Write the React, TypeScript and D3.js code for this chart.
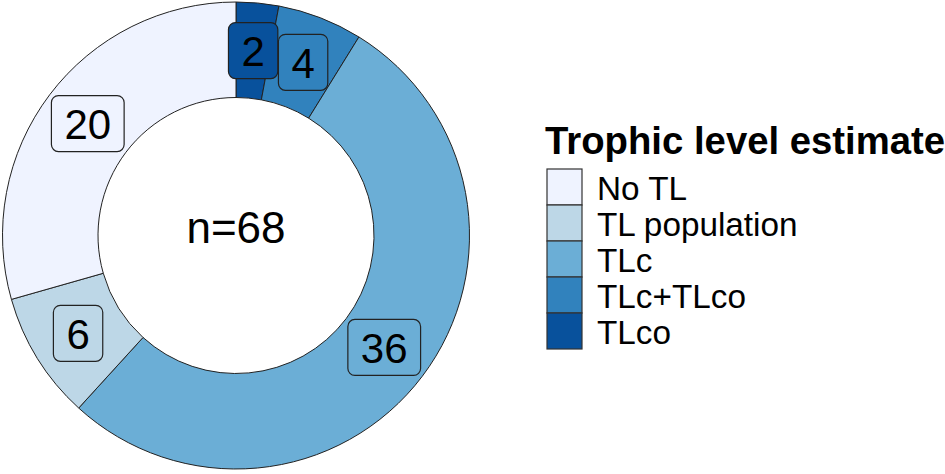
import * as React from "react";
import * as d3 from "d3";

// slices in drawing order, clockwise from 12 o'clock
const categories = ["TLco", "TLc+TLco", "TLc", "TL population", "No TL"];
const counts = [2, 4, 36, 6, 20];
const legendOrder = ["No TL", "TL population", "TLc", "TLc+TLco", "TLco"];
const legendColors = ["#EFF3FF", "#BDD7E7", "#6BAED6", "#3182BD", "#08519C"];
const legendTitle = "Trophic level estimate";

const W = 945;
const H = 474;
const FONT = "'Liberation Sans', Arial, Helvetica, sans-serif";

export default function App() {
  const ref = React.useRef<SVGSVGElement>(null);

  React.useEffect(() => {
    const svg = d3.select(ref.current);
    svg.selectAll("*").remove();

    const cx = 236;
    const cy = 235.5;
    const rOuter = 233.5;
    const rInner = 138;
    const total = d3.sum(counts);

    const color = d3.scaleOrdinal<string, string>().domain(legendOrder).range(legendColors);

    const pie = d3
      .pie<number>()
      .sort(null)
      .value((d) => d);
    const arcs = pie(counts);
    const arc = d3.arc<d3.PieArcDatum<number>>().innerRadius(rInner).outerRadius(rOuter);

    const g = svg.append("g").attr("transform", `translate(${cx},${cy})`);

    g.selectAll("path.slice")
      .data(arcs)
      .enter()
      .append("path")
      .attr("class", "slice")
      .attr("d", arc)
      .attr("fill", (d, i) => color(categories[i]))
      .attr("stroke", "#222")
      .attr("stroke-width", 1);

    g.append("text")
      .attr("x", 0)
      .attr("y", -8)
      .attr("text-anchor", "middle")
      .attr("dominant-baseline", "central")
      .attr("font-family", FONT)
      .attr("font-size", 44)
      .attr("fill", "#000")
      .text(`n=${total}`);

    // value labels, ggplot geom_label style
    const labels = g
      .selectAll("g.lab")
      .data(arcs)
      .enter()
      .append("g")
      .attr("class", "lab")
      .attr("transform", (d) => {
        const [x, y] = arc.centroid(d);
        return `translate(${x},${y})`;
      });

    const rects = labels.append("rect");
    const texts = labels
      .append("text")
      .attr("text-anchor", "middle")
      .attr("dominant-baseline", "central")
      .attr("y", 1)
      .attr("font-family", FONT)
      .attr("font-size", 42)
      .attr("fill", "#000")
      .text((d) => String(d.data));

    texts.each(function (d, i) {
      const bb = (this as SVGTextElement).getBBox();
      const w = bb.width + 26;
      const h = 56;
      d3.select(rects.nodes()[i])
        .attr("x", -w / 2)
        .attr("y", -h / 2)
        .attr("width", w)
        .attr("height", h)
        .attr("rx", 7)
        .attr("fill", color(categories[i]))
        .attr("stroke", "#222")
        .attr("stroke-width", 1.2);
    });

    // legend
    const lx = 547;
    const key = 36;
    const ly = 169;
    const leg = svg.append("g");
    leg
      .append("text")
      .attr("x", lx - 2)
      .attr("y", 154)
      .attr("font-family", FONT)
      .attr("font-weight", "bold")
      .attr("font-size", 38.3)
      .attr("fill", "#000")
      .text(legendTitle);

    const ky = d3
      .scaleBand()
      .domain(legendOrder)
      .range([ly, ly + key * legendOrder.length]);

    const items = leg
      .selectAll("g.item")
      .data(legendOrder)
      .enter()
      .append("g")
      .attr("class", "item")
      .attr("transform", (d) => `translate(${lx},${ky(d)})`);

    items
      .append("rect")
      .attr("width", 35)
      .attr("height", ky.bandwidth())
      .attr("fill", (d) => color(d))
      .attr("stroke", "#333")
      .attr("stroke-width", 1.2);

    items
      .append("text")
      .attr("x", 50)
      .attr("y", ky.bandwidth() / 2 + 1)
      .attr("dominant-baseline", "central")
      .attr("font-family", FONT)
      .attr("font-size", 33.3)
      .attr("fill", "#000")
      .text((d) => d);
  }, []);

  return (
    <svg
      ref={ref}
      width={W}
      height={H}
      style={{ position: "absolute", left: 0, top: 0, background: "#fff" }}
    />
  );
}
